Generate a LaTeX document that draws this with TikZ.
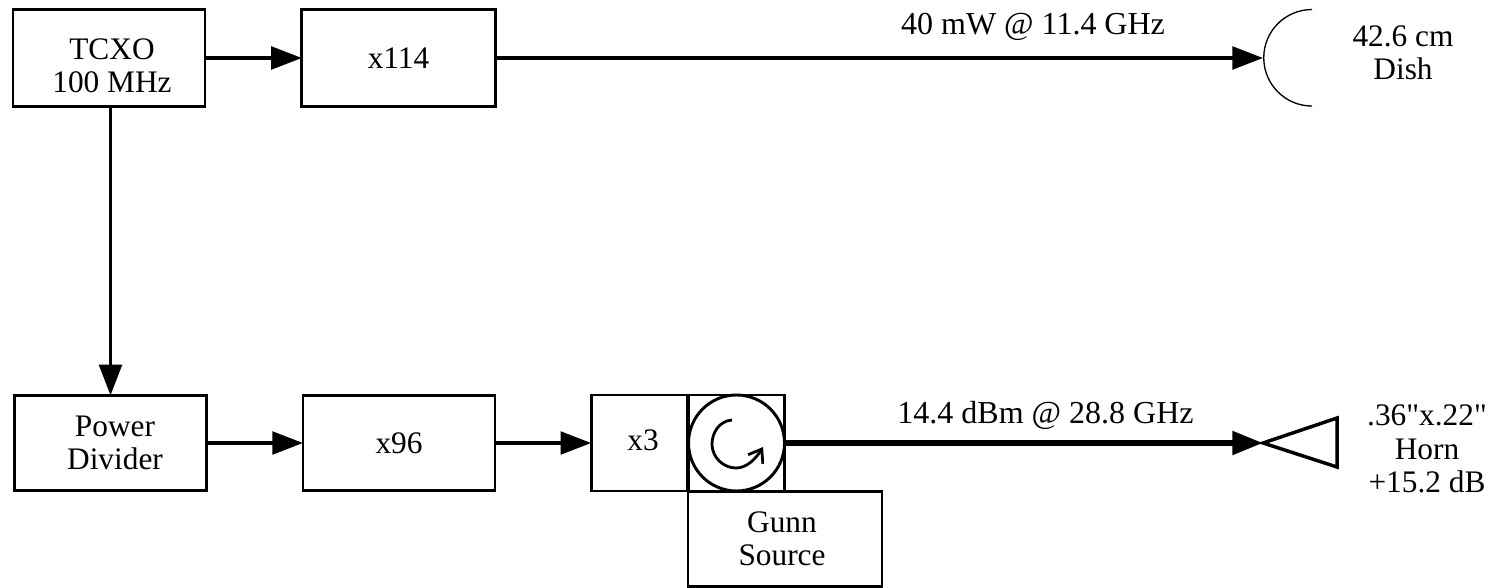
\documentclass[tikz,border=0pt]{standalone}
\usepackage{fontspec}
\newfontfamily\libser{Liberation Serif}
\usetikzlibrary{arrows.meta}
\begin{document}
\begin{tikzpicture}[x=0.75pt,y=-0.75pt,
  blk/.style={draw=black,line width=2.2pt,outer sep=0pt,inner sep=0pt,align=center,font=\libser\fontsize{23.5}{25}\selectfont},
  lbl/.style={inner sep=0pt,align=center,font=\libser\fontsize{23.5}{25}\selectfont},
  toplbl/.style={inner sep=0pt,align=center,font=\libser\fontsize{24}{25}\selectfont},
  tip/.style={-{Triangle[length=23pt,width=17pt]}},
  conn/.style={tip,line width=2.6pt,shorten <=-0.5pt}]
\useasboundingbox (0,0) rectangle (1501,588);
\node[blk,minimum width=144pt,minimum height=72.5pt] (tcxo) at (109,58) {};
\node[lbl] (tcxot) at (112,66) {TCXO\\100 MHz};
\node[blk,minimum width=145pt,minimum height=72.5pt] (x114) at (398.5,58) {x114};
\node[blk,minimum width=143.5pt,minimum height=71.5pt] (pd) at (110.5,443) {};
\node[lbl] (pdt) at (115,443) {Power\\Divider};
\node[blk,minimum width=144pt,minimum height=71.5pt] (x96) at (399,443) {x96};
\node[blk,minimum width=72.5pt,minimum height=72pt] (x3) at (639.5,443) {};
\node[lbl] (x3t) at (643,440) {x3};
\node[blk,minimum width=72.5pt,minimum height=72pt] (circbox) at (736.5,443) {};
\node[blk,minimum width=145.5pt,minimum height=71.5pt] (gunn) at (785,539) {};
\node[lbl] (gunnt) at (782,539) {Gunn\\Source};
\node[draw=black,line width=2.2pt,circle,minimum size=72pt,inner sep=0pt,outer sep=0pt] (circ) at (736.5,443) {};
\draw[line width=2.1pt,-{Straight Barb[length=9pt,width=13pt]}] (732,420) .. controls (719,421) and (712,433) .. (712,444) .. controls (712,458) and (724,468) .. (736,468) .. controls (746,468) and (755,460) .. (763,447);
\coordinate (dishv) at (1263,58);
\coordinate (dishtop) at (1312,9.5);
\draw[line width=1pt] (dishtop) arc[start angle=90,end angle=270,radius=36.2pt];
\draw[conn] (tcxo.east) -- (x114.west);
\draw[conn] (x114.east) -- (dishv);
\draw[conn] (tcxo.south -| pd.north) -- (pd.north);
\draw[conn] (pd.east) -- (x96.west);
\draw[conn] (x96.east) -- (x3.west);
\coordinate (hornv) at (1263,443);
\coordinate (horna) at (1337,418);
\coordinate (hornb) at (1337,467);
\draw[tip,line width=4.6pt,shorten <=1pt] (circbox.east) -- (hornv);
\draw[line width=2.6pt,line join=miter] (hornv) -- (horna) -- (hornb) -- cycle;
\node[toplbl] (t1) at (1033,27) {40 mW @ 11.4 GHz};
\node[toplbl] (t2) at (1045.5,415) {14.4 dBm @ 28.8 GHz};
\node[lbl] (t3) at (1403,53) {42.6 cm\\Dish};
\node[lbl] (t4) at (1427,449) {.36"x.22"\\Horn\\+15.2 dB};
\end{tikzpicture}
\end{document}
